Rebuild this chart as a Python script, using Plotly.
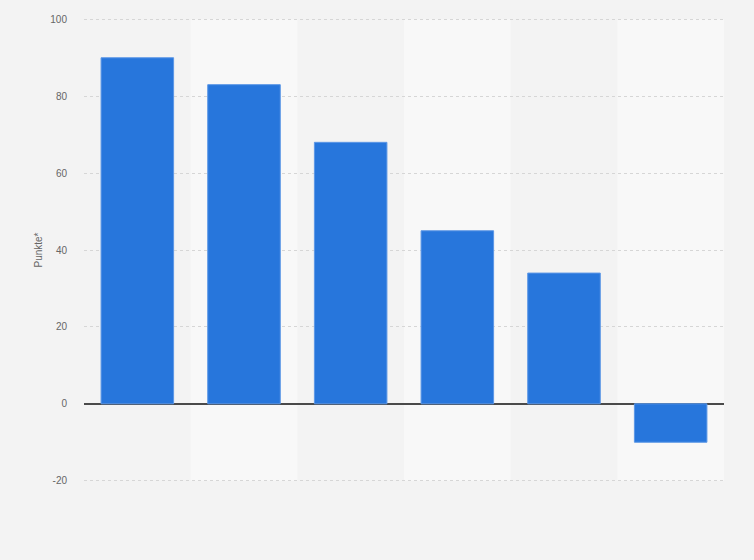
import plotly.graph_objects as go

# Werte
categories = ["A", "B", "C", "D", "E", "F"]
values = [90, 83, 68, 45, 34, -10]
y_ticks = [-20, 0, 20, 40, 60, 80, 100]
y_tick_labels = ["-20", "0", "20", "40", "60", "80", "100"]

BAR_COLOR = "#2776dc"

fig = go.Figure()
fig.add_trace(go.Bar(
    x=categories,
    y=values,
    width=0.68,
    marker=dict(color=BAR_COLOR, line=dict(color="#5c97e6", width=1)),
    hoverinfo="x+y",
))

# helle Hintergrundstreifen für jede zweite Kategorie
for i in range(1, len(categories), 2):
    fig.add_shape(
        type="rect", xref="x", yref="y",
        x0=i - 0.5, x1=i + 0.5, y0=y_ticks[0], y1=y_ticks[-1],
        fillcolor="#f8f8f8", line=dict(width=0), layer="below",
    )

fig.update_layout(
    width=754,
    height=560,
    margin=dict(l=84, r=30, t=17, b=77),
    paper_bgcolor="#f3f3f3",
    plot_bgcolor="#f3f3f3",
    showlegend=False,
    bargap=0.32,
    font=dict(family="Liberation Sans, Arial, sans-serif", size=10, color="#666666"),
)
fig.update_xaxes(
    showticklabels=False,
    showgrid=False,
    zeroline=False,
    range=[-0.5, len(categories) - 0.5],
)
# etwas Luft oben/unten, damit die Gitterlinien bei 100 und -20 gezeichnet werden
fig.update_yaxes(
    range=[y_ticks[0] - 0.6, y_ticks[-1] + 0.6],
    tickvals=y_ticks,
    ticktext=y_tick_labels,
    showgrid=True,
    gridcolor="#d6d6d6",
    griddash="dot",
    gridwidth=1,
    zeroline=True,
    zerolinecolor="#4a4a4a",
    zerolinewidth=1.5,
    ticks="",
    ticklabelstandoff=16,
    tickfont=dict(size=10, color="#666666"),
    title=dict(text="Punkte*", font=dict(size=10, color="#666666"), standoff=5),
)

# Seitenrand entfernen, damit die Grafik das Fenster ausfüllt
fig.write_html(
    "out.html",
    config={"displayModeBar": False},
    post_script="document.body.style.margin='0';",
)
